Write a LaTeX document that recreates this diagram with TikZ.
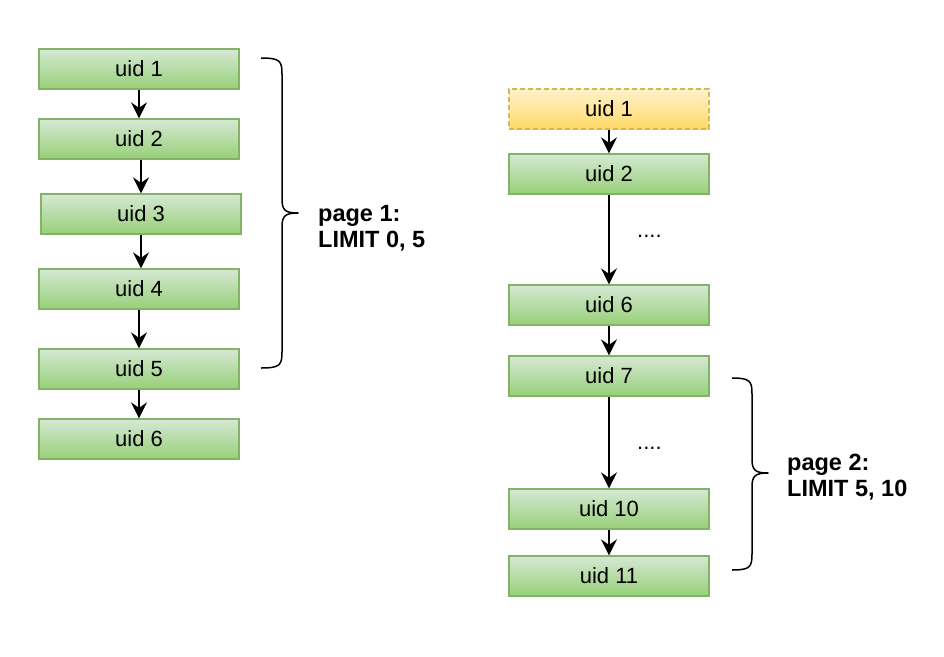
\documentclass[tikz,border=0pt]{standalone}
\usepackage{fontspec}
\setmainfont{Liberation Sans}
\usetikzlibrary{arrows.meta}

\definecolor{greenfillA}{HTML}{D5E8D4}
\definecolor{greenfillB}{HTML}{97D077}
\definecolor{greenline}{HTML}{82B366}
\definecolor{yellowfillA}{HTML}{FFF2CC}
\definecolor{yellowfillB}{HTML}{FFD966}
\definecolor{yellowline}{HTML}{D6B656}

\tikzset{
  rowbox/.style={rectangle, minimum width=200pt, minimum height=40pt, inner sep=0pt,
    draw=greenline, line width=1.3pt, top color=greenfillA, bottom color=greenfillB,
    font=\fontsize{22}{26}\selectfont},
  skipbox/.style={rowbox, draw=yellowline, dashed, dash pattern=on 5pt off 3pt,
    top color=yellowfillA, bottom color=yellowfillB},
  flow/.style={line width=2pt, -{Stealth[length=16pt,width=16pt,inset=5.5pt]}},
  brace/.style={line width=1.5pt, line join=round},
  pagelabel/.style={anchor=west, inner sep=0pt, align=left,
    font=\fontsize{23.5}{26}\selectfont\bfseries},
  dots/.style={anchor=base west, inner sep=0pt, font=\fontsize{22}{26}\selectfont}
}

\begin{document}
\begin{tikzpicture}[x=1pt, y=-1pt]
  \useasboundingbox (0,0) rectangle (944,656);

  % first query: rows 1..6
  \node[rowbox] (l1) at (139,69)  {uid 1};
  \node[rowbox] (l2) at (139,139) {uid 2};
  \node[rowbox] (l3) at (141,214) {uid 3};
  \node[rowbox] (l4) at (139,289) {uid 4};
  \node[rowbox] (l5) at (139,369) {uid 5};
  \node[rowbox] (l6) at (139,439) {uid 6};

  \draw[flow] (l1.south) -- (l2.north);
  \draw[flow] (l3.north |- l2.south) -- (l3.north);
  \draw[flow] (l3.south) -- (l3.south |- l4.north);
  \draw[flow] (l4.south) -- (l5.north);
  \draw[flow] (l5.south) -- (l6.north);

  % brace over the first five rows
  \coordinate (b1top) at (261,58);
  \coordinate (b1tip) at (298,213);
  \coordinate (b1bot) at (261,368);
  \draw[brace] (b1top) .. controls (280,58) and (282,61) .. (282,74)
    -- (282,199) .. controls (282,210) and (285,213) .. (b1tip)
    .. controls (285,213) and (282,216) .. (282,227)
    -- (282,352) .. controls (282,365) and (280,368) .. (b1bot);
  \node[pagelabel] (p1) at (318,228) {page 1:\\LIMIT 0, 5};

  % second query: offset 5 skips the first rows
  \node[skipbox] (r1)  at (609,109) {uid 1};
  \node[rowbox]  (r2)  at (609,174) {uid 2};
  \node[rowbox]  (r6)  at (609,305) {uid 6};
  \node[rowbox]  (r7)  at (609,376) {uid 7};
  \node[rowbox]  (r10) at (609,509) {uid 10};
  \node[rowbox]  (r11) at (609,576) {uid 11};

  \draw[flow] (r1.south) -- (r2.north);
  \draw[flow] (r2.south) -- (r6.north);
  \draw[flow] (r6.south) -- (r7.north);
  \draw[flow] (r7.south) -- (r10.north);
  \draw[flow] (r10.south) -- (r11.north);

  \node[dots] (d1) at (637,237) {....};
  \node[dots] (d2) at (637,449) {....};

  % brace over rows 7..11
  \coordinate (b2top) at (732,378);
  \coordinate (b2tip) at (768,473);
  \coordinate (b2bot) at (732,570);
  \draw[brace] (b2top) .. controls (750,378) and (752,381) .. (752,394)
    -- (752,459) .. controls (752,470) and (755,473) .. (b2tip)
    .. controls (755,473) and (752,476) .. (752,487)
    -- (752,554) .. controls (752,567) and (750,570) .. (b2bot);
  \node[pagelabel] (p2) at (787,477) {page 2:\\LIMIT 5, 10};
\end{tikzpicture}
\end{document}
